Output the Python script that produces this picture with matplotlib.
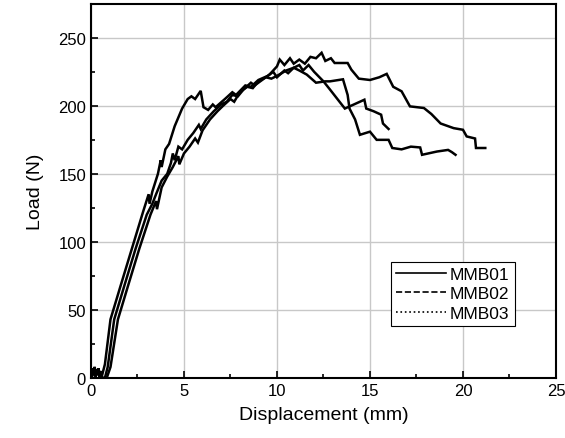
import numpy as np
import matplotlib.pyplot as plt
from matplotlib.lines import Line2D
from matplotlib.ticker import MultipleLocator

plt.rcParams['font.family'] = ['Liberation Sans', 'DejaVu Sans']

# noisy start near zero load
noise_x = [0.0, 0.05, 0.1, 0.15, 0.2, 0.25, 0.3, 0.35, 0.4, 0.45, 0.5, 0.55]
noise_y = [6, 1, 7, 2, 8, 1, 6, 2, 7, 1, 5, 0]

# MMB01 - steep curve with early peak
x1 = noise_x + [0.6, 0.75, 1.05, 1.6, 2.2, 2.8, 3.1, 3.15, 3.3, 3.6, 3.75, 3.8, 4.0, 4.2,
                4.5, 4.9, 5.2, 5.4, 5.6, 5.9, 6.05, 6.3, 6.55, 6.7, 7.2, 7.6, 7.8, 8.3,
                8.6, 9.0, 9.5, 9.8, 10.0, 10.4, 10.6, 10.9, 11.2, 11.4, 11.7, 12.0, 12.5,
                12.85, 13.65, 14.7, 14.8, 15.2, 15.6, 15.7, 16.0]
y1 = noise_y + [2, 10, 43, 68, 95, 122, 135, 128, 137, 150, 160, 155, 168, 172,
                185, 198, 205, 207, 205, 211, 199, 197, 201, 199, 205, 210, 208, 215,
                214, 219, 222, 225, 221, 226, 224, 228, 230, 226, 230, 225, 218,
                212, 198, 204.5, 198, 196, 193.5, 187, 183]

# MMB02
x2 = noise_x + [0.75, 0.9, 1.25, 1.8, 2.4, 3.0, 3.3, 3.5, 3.8, 4.1, 4.3, 4.4, 4.5, 4.7,
                4.9, 5.2, 5.5, 5.8, 5.9, 6.2, 6.6, 7.0, 7.3, 7.6, 7.9, 8.2, 8.6, 8.8,
                9.2, 9.6, 10.0, 10.15, 10.4, 10.7, 10.9, 11.2, 11.5, 11.8, 12.1, 12.4,
                12.6, 12.9, 13.1, 13.8, 14.0, 14.4, 15.0, 15.5, 15.9, 16.25, 16.7,
                17.15, 17.9, 18.3, 18.8, 19.5, 20.0, 20.2, 20.65, 20.7, 21.2]
y2 = noise_y + [0, 8, 43, 68, 95, 120, 128, 135, 145, 150, 158, 165, 160, 170,
                168, 175, 180, 186, 183, 190, 196, 201, 203, 208, 207, 212, 217, 215,
                219, 223, 229, 234, 230, 235, 231, 234, 231, 236, 235, 239,
                233, 235, 231.5, 231.5, 226.6, 220, 219, 221, 223.5, 214, 210.7,
                199.6, 198.4, 194, 187, 183.6, 182.4, 177.5, 176, 169, 169]

# MMB03
x3 = noise_x + [0.85, 1.05, 1.45, 2.0, 2.6, 3.2, 3.5, 3.55, 3.8, 4.1, 4.4, 4.7, 4.75,
                5.0, 5.3, 5.6, 5.75, 6.0, 6.4, 6.8, 7.1, 7.5, 7.7, 8.0, 8.4, 8.7, 9.0,
                9.4, 9.7, 10.0, 10.5, 10.9, 11.2, 11.6, 12.1, 12.6, 12.85, 13.55, 13.8,
                13.9, 14.2, 14.46, 15.0, 15.36, 16.0, 16.2, 16.7, 17.2, 17.7, 17.8,
                18.6, 19.2, 19.4, 19.6]
y3 = noise_y + [0, 8, 43, 68, 95, 120, 130, 124, 140, 148, 155, 163, 157,
                165, 170, 176, 173, 182, 190, 196, 200, 205, 203, 210, 214, 213, 218,
                221, 220, 222, 226, 228, 226, 223, 217, 218, 218, 219.5, 208,
                198, 190, 178.7, 181, 175, 175, 169, 168, 170, 169.4, 164,
                166.4, 167.6, 166, 164]

labels = ['MMB01', 'MMB02', 'MMB03']
styles = ['-', '--', ':']

fig = plt.figure(figsize=(5.65, 4.39), dpi=100)
ax = fig.add_axes([0.161, 0.137, 0.823, 0.852])

for xs, ys in [(x1, y1), (x2, y2), (x3, y3)]:
    ax.plot(xs, ys, color='black', lw=1.8, solid_joinstyle='miter')

ax.set_xlim(0, 25)
ax.set_ylim(0, 275)
ax.xaxis.set_major_locator(MultipleLocator(5))
ax.xaxis.set_minor_locator(MultipleLocator(2.5))
ax.yaxis.set_major_locator(MultipleLocator(50))
ax.yaxis.set_minor_locator(MultipleLocator(25))
ax.tick_params(which='both', direction='in', labelsize=12, width=1.2)
ax.tick_params(which='major', length=5)
ax.tick_params(which='minor', length=3)
ax.grid(True, which='major', color='#c8c8c8', lw=1)
ax.set_axisbelow(True)
for s in ax.spines.values():
    s.set_linewidth(1.5)

ax.set_xlabel('Displacement (mm)', fontsize=14, labelpad=6)
ax.set_ylabel('Load (N)', fontsize=14, labelpad=10)

handles = [Line2D([], [], color='black', lw=1.2, ls=st) for st in styles]
leg = ax.legend(handles, labels, loc='lower right', bbox_to_anchor=(0.93, 0.115),
                fontsize=12.5, fancybox=False, framealpha=1, edgecolor='black',
                handlelength=2.9, handletextpad=0.2, borderpad=0.3, labelspacing=0.25)
leg.get_frame().set_linewidth(0.8)

fig.savefig('out.png', dpi=100)
